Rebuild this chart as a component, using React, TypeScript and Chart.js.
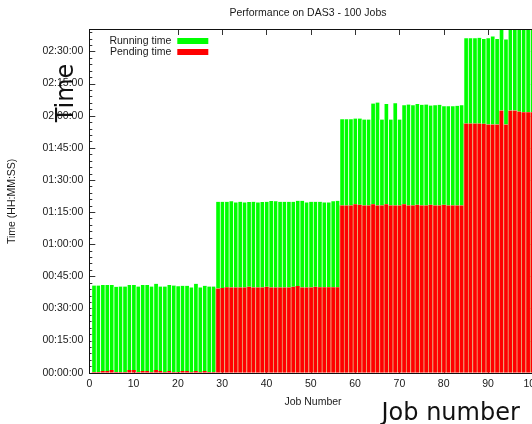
import React, { useEffect, useRef } from 'react';
import { Chart, registerables } from 'chart.js';

Chart.register(...registerables);

// Job numbers (categories)
const jobNumbers: number[] = Array.from({ length: 100 }, (_, i) => i + 1);

// Pending time per job, in minutes
const pendingGroup1 = [0.3, 0.3, 0.8, 0.8, 1.3, 0.3, 0.3, 0.3, 1.3, 1.3, 0.3, 0.8, 0.8, 0.3, 1.3, 0.8, 0.3, 0.8, 0.3, 0.3, 0.8, 0.8, 0.3, 0.8, 0.3, 0.8, 0.3, 0.3];
const pendingGroup2 = [39.3, 39.5, 39.9, 39.8, 39.8, 39.8, 39.8, 40.1, 39.8, 39.8, 39.8, 40.1, 39.8, 39.8, 39.8, 39.8, 39.8, 40.1, 40.5, 39.8, 39.8, 39.8, 40.1, 39.9, 39.9, 39.9, 39.9, 39.9];
const pendingGroup3 = [78.1, 78.1, 78.1, 78.7, 78.4, 78.1, 78.1, 78.7, 78.1, 78.1, 78.7, 78.1, 78.1, 78.1, 78.7, 78.1, 78.1, 78.4, 78.1, 78.1, 78.4, 78.1, 78.1, 78.4, 78.1, 78.1, 78.1, 78.1];
const pendingGroup4 = [116.3, 116.3, 116.3, 116.3, 116.2, 115.9, 115.9, 115.9, 122.4, 115.9, 122.4, 122.4, 121.9, 121.6, 121.6, 121.6];

// Total time (pending + running) per job, in minutes
const totalGroup1 = [40.7, 40.7, 40.9, 41.0, 41.0, 40.1, 40.2, 40.2, 41.0, 41.0, 40.2, 41.0, 41.0, 40.2, 41.5, 40.2, 40.2, 41.0, 40.7, 40.4, 40.6, 40.6, 39.8, 41.5, 39.8, 40.6, 40.2, 40.2];
const totalGroup2 = [79.8, 79.8, 79.8, 80.0, 79.5, 79.8, 79.5, 79.7, 79.8, 79.5, 79.7, 79.8, 80.2, 80.0, 79.8, 79.8, 79.8, 79.8, 80.3, 80.3, 79.5, 79.8, 79.8, 79.8, 79.5, 79.5, 80.0, 80.3];
const totalGroup3 = [118.3, 118.3, 118.3, 118.7, 118.7, 118.2, 118.2, 125.7, 126.1, 118.2, 125.4, 118.2, 125.8, 118.2, 124.9, 125.2, 124.9, 125.4, 125.1, 125.2, 124.7, 124.9, 125.1, 124.4, 124.4, 124.4, 124.6, 124.9];
const totalGroup4 = [156.1, 156.1, 156.1, 156.4, 155.8, 156.1, 157.0, 155.8, 166.0, 155.6, 164.0, 165.0, 164.0, 166.0, 165.0, 165.0];

const pendingMin = [...pendingGroup1, ...pendingGroup2, ...pendingGroup3, ...pendingGroup4];
const totalMin = [...totalGroup1, ...totalGroup2, ...totalGroup3, ...totalGroup4];
const runningMin = totalMin.map((t, i) => t - pendingMin[i]);

// Axis settings
const xTickValues = [0, 10, 20, 30, 40, 50, 60, 70, 80, 90, 100];
const yTickValues = [0, 15, 30, 45, 60, 75, 90, 105, 120, 135, 150];
const yMaxMin = 160;
const yMajorStep = 15;
const yMinorStep = 3;

const title = 'Performance on DAS3 - 100 Jobs';
const xTitle = 'Job Number';
const yTitle = 'Time (HH:MM:SS)';
const legendLabels = ['Running time', 'Pending time'];
const overlayX = 'Job number';
const overlayY = 'Time';

const GREEN = '#00ff00';
const RED = '#ff0000';
const TEXT = '#1a1a1a';
const SMALL_FONT = '10.5px "Liberation Sans", Arial, sans-serif';
const BIG_FONT = '24px "DejaVu Sans", sans-serif';

const pad2 = (n: number) => (n < 10 ? '0' + n : '' + n);
const fmtTime = (m: number) => {
  const h = Math.floor(m / 60);
  const mm = Math.round(m - h * 60);
  return `${pad2(h)}:${pad2(mm)}:00`;
};

const decorPlugin = {
  id: 'gnuplotDecor',
  beforeDatasetsDraw(chart: any) {
    const { ctx, chartArea: a, scales } = chart;
    const x = scales.x;
    const y = scales.y;
    ctx.save();
    ctx.strokeStyle = '#333';
    ctx.lineWidth = 1;
    ctx.beginPath();
    for (let v = 0; v <= yMaxMin; v += yMinorStep) {
      const py = Math.round(y.getPixelForValue(v)) + 0.5;
      const len = v % yMajorStep === 0 ? 6 : 3;
      ctx.moveTo(a.left, py);
      ctx.lineTo(a.left + len, py);
      ctx.moveTo(a.right, py);
      ctx.lineTo(a.right - len, py);
    }
    for (const v of xTickValues) {
      const px = Math.round(x.getPixelForValue(v)) + 0.5;
      if (v !== 10) {
        ctx.moveTo(px, a.top);
        ctx.lineTo(px, a.top + 5);
      }
      ctx.moveTo(px, a.bottom);
      ctx.lineTo(px, a.bottom - 5);
    }
    ctx.stroke();
    ctx.restore();
  },
  afterDatasetsDraw(chart: any) {
    const { ctx, chartArea: a } = chart;
    ctx.save();
    ctx.strokeStyle = '#111';
    ctx.lineWidth = 1;
    const l = Math.round(a.left) + 0.5;
    const t = Math.round(a.top) - 0.5;
    const r = Math.round(a.right) + 0.5;
    const b = Math.round(a.bottom) + 0.5;
    ctx.strokeRect(l, t, r - l, b - t);

    // legend
    ctx.font = SMALL_FONT;
    ctx.fillStyle = TEXT;
    ctx.textAlign = 'right';
    ctx.textBaseline = 'middle';
    const lx = a.left + 82;
    const ly = a.top + 11;
    const colors = [GREEN, RED];
    legendLabels.forEach((lab, i) => {
      const yy = ly + i * 11;
      ctx.fillStyle = TEXT;
      ctx.fillText(lab, lx, yy);
      ctx.fillStyle = colors[i];
      ctx.fillRect(lx + 6, yy - 3, 31, 6);
    });
    ctx.restore();
  },
  afterDraw(chart: any) {
    const { ctx, chartArea: a } = chart;
    ctx.save();
    ctx.fillStyle = TEXT;
    ctx.font = SMALL_FONT;
    ctx.textAlign = 'center';
    ctx.textBaseline = 'middle';
    ctx.fillText(title, chart.width / 2, 13.5);
    ctx.fillText(xTitle, (a.left + a.right) / 2, 402.5);
    ctx.save();
    ctx.translate(12, (a.top + a.bottom) / 2);
    ctx.rotate(-Math.PI / 2);
    ctx.fillText(yTitle, 0, 0);
    ctx.restore();

    // large overlay labels
    ctx.fillStyle = '#111';
    ctx.font = BIG_FONT;
    ctx.textBaseline = 'alphabetic';
    ctx.textAlign = 'left';
    ctx.fillText(overlayX, 381.5, 419.5);
    ctx.save();
    ctx.translate(73, 93);
    ctx.rotate(-Math.PI / 2);
    ctx.textAlign = 'center';
    ctx.fillText(overlayY, 0, 0);
    ctx.restore();
    ctx.restore();
  },
};

export default function App() {
  const canvasRef = useRef<HTMLCanvasElement | null>(null);

  useEffect(() => {
    const canvas = canvasRef.current;
    if (!canvas) return;
    const chart = new Chart(canvas, {
      type: 'bar',
      data: {
        datasets: [
          {
            label: legendLabels[1],
            data: jobNumbers.map((j, i) => ({ x: j, y: pendingMin[i] })),
            backgroundColor: RED,
            borderColor: 'rgba(215,160,80,0.7)',
            borderWidth: { left: 1, right: 0, top: 0, bottom: 0 },
            borderSkipped: false,
            barPercentage: 1,
            categoryPercentage: 1,
          },
          {
            label: legendLabels[0],
            data: jobNumbers.map((j, i) => ({ x: j, y: runningMin[i] })),
            backgroundColor: GREEN,
            borderColor: 'rgba(255,255,255,0.6)',
            borderWidth: { left: 1, right: 0, top: 0, bottom: 0 },
            borderSkipped: false,
            barPercentage: 1,
            categoryPercentage: 1,
          },
        ],
      },
      options: {
        responsive: false,
        animation: false,
        devicePixelRatio: 1,
        events: [],
        layout: { padding: { top: 30, right: 79.3, bottom: 0, left: 0 } },
        plugins: {
          legend: { display: false },
          title: { display: false },
          tooltip: { enabled: false },
        },
        scales: {
          x: {
            type: 'linear',
            stacked: true,
            offset: false,
            min: 0,
            max: 101,
            grid: { display: false, drawTicks: false },
            border: { display: false },
            ticks: {
              padding: 5,
              color: TEXT,
              font: { family: '"Liberation Sans", Arial, sans-serif', size: 10.5 },
              maxRotation: 0,
              autoSkip: false,
            },
            afterBuildTicks: (scale: any) => {
              scale.ticks = xTickValues.map((v) => ({ value: v }));
            },
            afterFit: (scale: any) => {
              scale.height = 51.3;
            },
          },
          y: {
            type: 'linear',
            stacked: true,
            min: 0,
            max: yMaxMin,
            grid: { display: false, drawTicks: false },
            border: { display: false },
            ticks: {
              padding: 6,
              color: TEXT,
              font: { family: '"Liberation Sans", Arial, sans-serif', size: 10.5 },
              callback: (v: any) => fmtTime(Number(v)),
              autoSkip: false,
            },
            afterBuildTicks: (scale: any) => {
              scale.ticks = yTickValues.map((v) => ({ value: v }));
            },
            afterFit: (scale: any) => {
              scale.width = 89.3;
            },
          },
        },
      },
      plugins: [decorPlugin],
    } as any);
    return () => chart.destroy();
  }, []);

  return (
    <div style={{ position: 'fixed', left: 0, top: 0, width: 532, height: 424, overflow: 'hidden', background: '#fff' }}>
      <canvas ref={canvasRef} width={616} height={424} style={{ display: 'block' }} />
    </div>
  );
}
